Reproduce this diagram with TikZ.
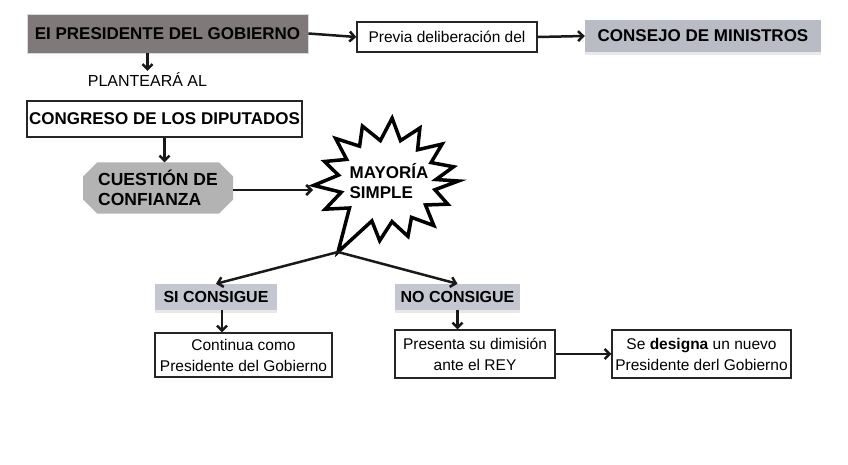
\documentclass[tikz,border=0pt]{standalone}
\usepackage{fontspec}
\setmainfont{Liberation Sans}
\usetikzlibrary{arrows.meta,shapes.misc,shadows,calc}
\definecolor{presgray}{HTML}{7F7979}
\definecolor{consgray}{HTML}{B9BBC5}
\definecolor{octgray}{HTML}{B3B3B3}
\definecolor{taggray}{HTML}{C5C7D0}
\begin{document}
\begin{tikzpicture}[x=1pt,y=-1pt,
  arr/.style={line width=2.5pt,draw=black!90,-{Straight Barb[length=5pt,width=10pt,line width=2.5pt]}},
  whitebox/.style={draw=black!85,line width=1.4pt,fill=white,inner sep=0pt,align=center,font=\fontsize{15.5}{21}\selectfont},
  boldtxt/.style={font=\fontsize{17}{20}\selectfont\bfseries},
  tagbox/.style={fill=taggray,inner sep=0pt,font=\fontsize{16}{19}\selectfont\bfseries,
     drop shadow={opacity=0.18,shadow xshift=0pt,shadow yshift=-3pt}},
  burst/.style={draw=black,line width=3.5pt,line join=miter,fill=white}]
\useasboundingbox[fill=white] (0,0) rectangle (848,465);

% top row
\node[fill=presgray,draw=black!15,line width=0.8pt,minimum width=281pt,minimum height=39pt,inner sep=0pt,boldtxt] (pres) at (167.5,33.5) {EI PRESIDENTE DEL GOBIERNO};
\node[whitebox,minimum width=180pt,minimum height=30pt] (prev) at (447,37) {Previa deliberación del};
\node[fill=consgray,minimum width=236pt,minimum height=32pt,inner sep=0pt,boldtxt,
      drop shadow={opacity=0.18,shadow xshift=0pt,shadow yshift=-3pt}] (cons) at (703,36) {CONSEJO DE MINISTROS};
\node[inner sep=0pt,font=\fontsize{16}{19}\selectfont] (plant) at (147.5,80) {PLANTEARÁ AL};

% congreso and cuestion
\node[whitebox,minimum width=275pt,minimum height=36pt,boldtxt] (cong) at (164.5,119) {CONGRESO DE LOS DIPUTADOS};
\node[chamfered rectangle,chamfered rectangle xsep=7pt,chamfered rectangle ysep=7pt,
      fill=octgray,minimum width=150pt,minimum height=51pt,inner sep=0pt,align=left,
      font=\fontsize{17.5}{20.5}\selectfont\bfseries] (conf) at (158,188) {CUESTIÓN DE\\CONFIANZA};

% starburst
\begin{scope}[shift={(387,181)}]
\draw[burst] (71.4,0)
 \foreach \a/\f in {12/0.7,24/0.95,36/0.68,48/1.0,60/0.7,72/0.97,84/0.68,96/1.0,108/0.7}{ -- ({70*\f*cos(\a)},{60*\f*sin(\a)}) }
 -- (-49,71)
 \foreach \a/\f in {140/0.7,152/1.0,164/0.68,176/1.05,188/0.7,200/0.95,212/0.68,224/1.02,236/0.7,249/0.98,262/0.68,274/1.05,286/0.7,298/1.0,310/0.68,322/1.0,334/0.7,346/0.98,358/0.7}{ -- ({70*\f*cos(\a)},{60*\f*sin(\a)}) }
 -- cycle;
\coordinate (tail) at (-49,71);
\coordinate (burstW) at (-74,9);
\end{scope}
\node[align=left,inner sep=0pt,font=\fontsize{17}{19.5}\selectfont\bfseries] (mayo) at (389,181) {MAYORÍA\\SIMPLE};

% results
\node[tagbox,minimum width=122pt,minimum height=26pt] (si) at (216,297) {SI CONSIGUE};
\node[tagbox,minimum width=125pt,minimum height=26pt] (no) at (457.5,297) {NO CONSIGUE};
\node[whitebox,minimum width=177pt,minimum height=44pt] (cont) at (243.5,355) {Continua como\\Presidente del Gobierno};
\node[whitebox,minimum width=160pt,minimum height=48pt] (dim) at (475,354) {Presenta su dimisión\\ante el REY};
\node[whitebox,minimum width=179pt,minimum height=48pt] (des) at (701.5,354) {Se \textbf{designa} un nuevo\\Presidente derl Gobierno};

% connectors
\draw[arr] (pres.east) -- (prev.west);
\draw[arr] (prev.east) -- (cons.west);
\draw[arr,shorten >=2pt] (plant.north |- pres.south) -- (plant.north);
\draw[arr] (cong.south) -- (cong.south |- conf.north);
\draw[arr] (conf.east |- burstW) -- (burstW);
\draw[arr] (tail) -- (si.north);
\draw[arr] (tail) -- (no.north);
\draw[arr] ([xshift=6pt]si.south) -- ([xshift=6pt]si.south |- cont.north);
\draw[arr] (no.south) -- (no.south |- dim.north);
\draw[arr] (dim.east) -- (des.west);
\end{tikzpicture}
\end{document}
